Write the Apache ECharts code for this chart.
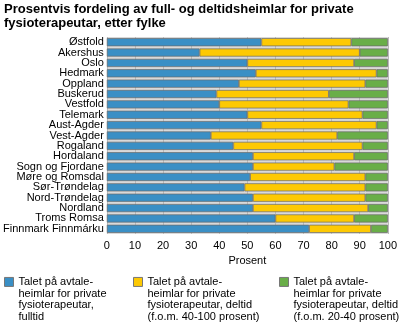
<!DOCTYPE html>
<html><head><meta charset="utf-8">
<script src="https://cdn.jsdelivr.net/npm/echarts@6/dist/echarts.min.js"></script>
<style>html,body{margin:0;padding:0;background:#fff}#c{width:400px;height:324px}</style>
</head><body><div id="c"></div>
<script>
const categories = ["Østfold","Akershus","Oslo","Hedmark","Oppland","Buskerud","Vestfold","Telemark","Aust-Agder","Vest-Agder","Rogaland","Hordaland","Sogn og Fjordane","Møre og Romsdal","Sør-Trøndelag","Nord-Trøndelag","Nordland","Troms Romsa","Finnmark Finnmárku"];
const fulltid = [55,33,50,53,47,39,40,50,55,37,45,52,52,51,49,52,52,60,72];
const deltid40 = [32,57,38,43,45,40,46,41,41,45,46,36,29,41,43,40,41,28,22];
const deltid20 = [13,10,12,4,8,21,14,9,4,18,9,12,19,8,8,8,7,12,6];
const seriesNames = ["Talet på avtale-\nheimlar for private\nfysioterapeutar,\nfulltid","Talet på avtale-\nheimlar for private\nfysioterapeutar, deltid\n(f.o.m. 40-100 prosent)","Talet på avtale-\nheimlar for private\nfysioterapeutar, deltid\n(f.o.m. 20-40 prosent)"];
const xTicks = [0,10,20,30,40,50,60,70,80,90,100];
const colors = ["#3a8fc5","#fdc903","#69ae48"];
const font = "Arial, 'Liberation Sans', sans-serif";
const chart = echarts.init(document.getElementById('c'));
const legendLefts = [4,133,279];
const mkLegend = (i) => ({
  data:[seriesNames[i]], left: legendLefts[i], top: 241, orient:'vertical',
  icon:'rect', itemWidth:9, itemHeight:9, itemGap:0, padding:0,
  formatter: n => '\n\n\n' + n,
  itemStyle:{borderColor:'#777', borderWidth:1},
  textStyle:{fontFamily:font,fontSize:11,color:'#000',lineHeight:11.7}
});
chart.setOption({
  animation:false,
  title:{text:"Prosentvis fordeling av full- og deltidsheimlar for private\nfysioterapeutar, etter fylke",left:4,top:2,padding:0,
    textStyle:{fontFamily:font,fontSize:13,fontWeight:'bold',color:'#000',lineHeight:14.5}},
  legend:[mkLegend(0),mkLegend(1),mkLegend(2)],
  grid:{left:106,right:9,top:37,bottom:90,show:true,backgroundColor:'#d9d9d9',borderWidth:0},
  xAxis:{type:'value',min:0,max:100,interval:10,name:'Prosent',nameLocation:'middle',nameGap:21,
    nameTextStyle:{fontFamily:font,fontSize:11,color:'#000'},
    axisLabel:{fontFamily:font,fontSize:11,color:'#000',margin:6,formatter:v=>xTicks.includes(v)?String(v):''},
    axisLine:{show:false},axisTick:{show:false},
    splitLine:{show:true,lineStyle:{color:'#b9b9b9',width:1}}},
  yAxis:{type:'category',data:categories,inverse:true,
    axisLabel:{fontFamily:font,fontSize:11,color:'#000',margin:3,interval:0},
    axisLine:{show:false},axisTick:{show:false},splitLine:{show:false}},
  series:[fulltid,deltid40,deltid20].map((d,i)=>({
    type:'bar',name:seriesNames[i],stack:'s',data:d,barCategoryGap:'22%',
    itemStyle:{color:colors[i],borderColor:'#6b6b6b',borderWidth:0.7}
  }))
});
</script></body></html>
